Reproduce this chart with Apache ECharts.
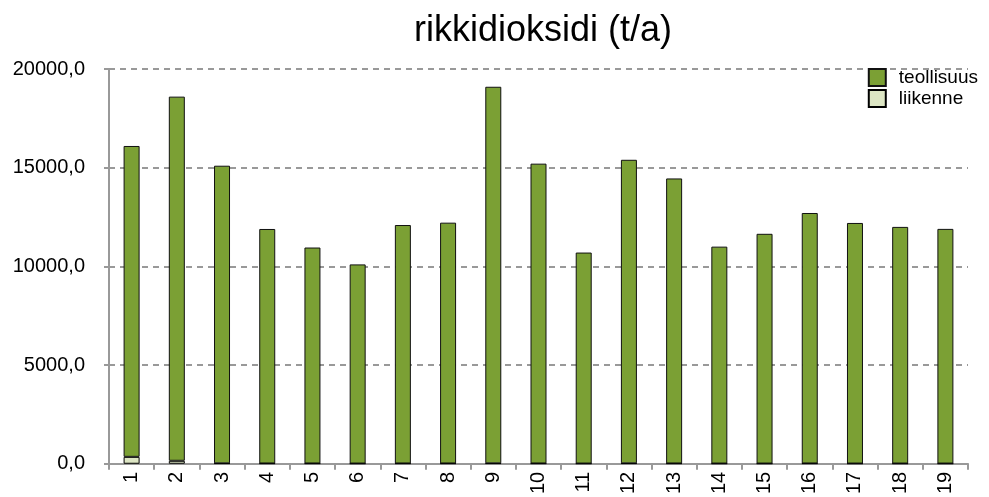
<!DOCTYPE html>
<html>
<head>
<meta charset="utf-8">
<script src="https://cdn.jsdelivr.net/npm/echarts@6/dist/echarts.min.js"></script>
<style>
  html, body { margin: 0; padding: 0; background: #fff; }
  #chart { width: 989px; height: 497px; }
</style>
</head>
<body>
<div id="chart"></div>
<script>
// Categories 1..19
const categories = ['1', '2', '3', '4', '5', '6', '7', '8', '9', '10',
  '11', '12', '13', '14', '15', '16', '17', '18', '19']

// Values (t/a)
const liikenne = [350, 150, 20, 15, 15, 10, 15, 15, 20, 15, 10, 20, 15, 10, 10, 15, 10, 10, 10]
const teollisuus = [15750, 18450, 15080, 11880, 10940, 10090, 12080, 12200, 19080, 15190,
  10690, 15380, 14440, 10990, 11640, 12690, 12190, 11990, 11890]

const yTicks = [0, 5000, 10000, 15000, 20000]

const chart = echarts.init(document.getElementById('chart'))

const option = {
  animation: false,
  textStyle: { fontFamily: 'Liberation Sans, Arial, sans-serif' },
  title: {
    text: 'rikkidioksidi (t/a)',
    left: 538,
    top: 8,
    textAlign: 'center',
    textStyle: { fontSize: 36, fontWeight: 'normal', color: '#000' },
  },
  legend: {
    data: ['teollisuus', 'liikenne'],
    orient: 'vertical',
    right: 6,
    top: 63,
    itemWidth: 17,
    itemHeight: 17,
    itemGap: 2,
    icon: 'rect',
    textStyle: { fontSize: 19, color: '#000', padding: [0, 0, 0, 8] },
  },
  grid: {
    left: 109,
    right: 21,
    top: 69,
    bottom: 32,
  },
  xAxis: {
    type: 'category',
    data: categories,
    axisLine: { lineStyle: { color: '#999', width: 2 } },
    axisTick: { show: true, length: 6, lineStyle: { color: '#999', width: 2 } },
    axisLabel: { rotate: 90, fontSize: 20, color: '#000', margin: 8 },
  },
  yAxis: {
    type: 'value',
    min: 0,
    max: 20000,
    interval: 5000,
    axisLine: { show: true, lineStyle: { color: '#999', width: 2 } },
    axisTick: { show: true, length: 5, lineStyle: { color: '#999', width: 2 } },
    axisLabel: {
      fontSize: 20,
      color: '#000',
      margin: 24,
      formatter: v => yTicks.includes(v) ? v.toFixed(1).replace('.', ',') : '',
    },
    splitLine: { lineStyle: { color: '#999', type: [6, 5], width: 2 } },
  },
  series: [
    {
      name: 'liikenne',
      type: 'bar',
      stack: 'total',
      data: liikenne,
      barWidth: 16,
      itemStyle: { color: '#dde6c4', borderColor: '#000', borderWidth: 1 },
    },
    {
      name: 'teollisuus',
      type: 'bar',
      stack: 'total',
      data: teollisuus,
      barWidth: 16,
      itemStyle: { color: '#7ba034', borderColor: '#111', borderWidth: 1 },
    },
  ],
}

chart.setOption(option)
</script>
</body>
</html>
